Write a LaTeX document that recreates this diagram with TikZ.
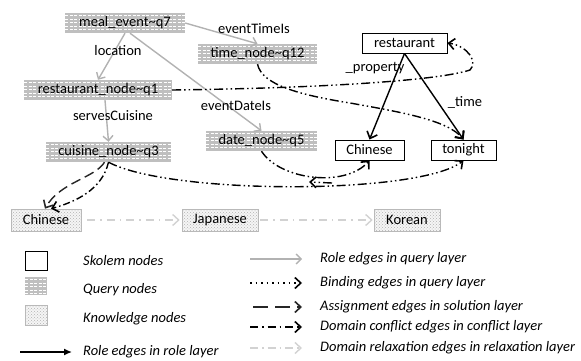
\documentclass[tikz,border=0pt]{standalone}
\usepackage{fontspec}
\setmainfont{Carlito}
\usetikzlibrary{arrows.meta,patterns}
\begin{document}
\begin{tikzpicture}[x=1pt,y=-1pt,
  font=\fontsize{14.5}{16}\selectfont,
  qnode/.style={fill=gray!50, inner sep=0pt, minimum height=20pt,
    path picture={\foreach \k in {2.5,6,...,20} {\draw[white, line width=0.7pt, dash pattern=on 3pt off 1.5pt]
      ([yshift=-\k pt]path picture bounding box.north west) -- ([yshift=-\k pt]path picture bounding box.north east);}}},
  know/.style={draw=gray!55, line width=0.6pt, preaction={fill=gray!8}, pattern=crosshatch dots, pattern color=gray!60, inner sep=0pt, minimum height=22pt},
  skolem/.style={draw=black, line width=0.9pt, inner sep=0pt, minimum height=20pt},
  lbl/.style={inner sep=0pt},
  legtext/.style={anchor=west, inner sep=0pt, font=\fontsize{14.5}{16}\selectfont\itshape},
  tip/.style={-{Straight Barb[length=6pt,width=11pt,line width=1.6pt]}},
  qrole/.style={draw=gray!60, line width=1.4pt, -{Straight Barb[length=5pt,width=10pt]}},
  role/.style={draw=black, line width=1.4pt, tip},
  mix/.style={draw=black, line width=1.4pt, dash pattern=on 9pt off 3pt on 1.5pt off 3pt on 1.5pt off 3pt, tip},
  bindl/.style={draw=black, line width=1.4pt, dash pattern=on 1.5pt off 4pt, tip},
  assign/.style={draw=black!85, line width=1.4pt, dash pattern=on 10pt off 5pt, tip},
  conf/.style={draw=black, line width=1.4pt, dash pattern=on 7pt off 3pt on 1.5pt off 3pt, tip},
  relax/.style={draw=gray!35, line width=1.4pt, dash pattern=on 8pt off 5pt on 1.5pt off 5pt, -{Straight Barb[length=6pt,width=11pt]}},
  rolelg/.style={draw=black, line width=1.4pt, -{Latex[length=8pt,width=7pt]}}
]
\useasboundingbox (0,0) rectangle (581,361);

% query layer
\node[qnode, minimum width=120pt] (meal) at (125,23) {meal\_event\textasciitilde q7};
\node[qnode, minimum width=119pt] (time) at (257.5,54) {time\_node\textasciitilde q12};
\node[qnode, minimum width=148pt] (q1) at (98,90) {restaurant\_node\textasciitilde q1};
\node[qnode, minimum width=125pt] (q3) at (108.5,152) {cuisine\_node\textasciitilde q3};
\node[qnode, minimum width=111pt] (q5) at (261.5,141) {date\_node\textasciitilde q5};

% role layer
\node[skolem, minimum width=85pt] (rest) at (404.5,43) {restaurant};
\node[skolem, minimum width=69pt] (chs) at (369.5,150) {Chinese};
\node[skolem, minimum width=65pt] (ton) at (463.5,150) {tonight};

% knowledge
\node[know, minimum width=70pt] (chk) at (46,220) {Chinese};
\node[know, minimum width=76pt] (jap) at (220,220) {Japanese};
\node[know, minimum width=66pt] (kor) at (407,220) {Korean};

% query role edges
\draw[qrole] (meal.south) -- (q1.north);
\draw[qrole] (meal.east) -- (time.north);
\draw[qrole] ([xshift=5pt]meal.south) -- (q5.north);
\draw[qrole] ([xshift=7pt]q1.south) -- (q3.north);
\node[lbl] (llocation) at (118,51) {location};
\node[lbl] (ltime) at (254,29) {eventTimeIs};
\node[lbl] (lserves) at (113,116) {servesCuisine};
\node[lbl] (ldate) at (236,106) {eventDateIs};

% role edges
\draw[role] (rest.south) -- (chs.north);
\draw[role] (rest.south) -- (ton.north);
\node[lbl] (lprop) at (375,68) {\_property};
\node[lbl] (ltimer) at (465,102) {\_time};

% binding / conflict curves
\coordinate (c1) at (470,70);
\coordinate (c2) at (350,103);
\draw[mix] (q1.east) .. controls (330,88) and (440,80) .. (c1) .. controls (478,62) and (468,46) .. (rest.east);
\draw[mix] (time.south) .. controls (262,85) and (300,95) .. (c2) .. controls (400,112) and (448,120) .. (ton.north);
\draw[mix] (q3.south) .. controls (170,195) and (420,195) .. (ton.south);
\draw[mix] (q5.south) .. controls (280,180) and (345,188) .. (chs.south);
\coordinate (s1) at (332,183);
\coordinate (s2) at (309,182);
\draw[mix] (s1) -- (s2);

% assignment and conflict to knowledge node
\draw[assign] ([xshift=-4pt]q3.south) .. controls (95,178) and (60,182) .. ([xshift=-1pt]chk.north);
\draw[conf] (q3.south) .. controls (102,190) and (75,202) .. ([xshift=5pt]chk.north);

% relaxation
\draw[relax, shorten <=6pt, shorten >=2pt] (chk.east) -- (jap.west);
\draw[relax, shorten <=2pt, shorten >=1pt] (jap.east) -- (kor.west);

% legend
\node[skolem, minimum width=22pt, minimum height=19pt] (lgS) at (36,260.5) {};
\node[qnode, minimum width=22pt, minimum height=18pt] (lgQ) at (36,286) {};
\node[know, minimum width=22pt, minimum height=20pt] (lgK) at (36,315) {};
\node[legtext] (tS) at (83,261) {Skolem nodes};
\node[legtext] (tQ) at (83,290) {Query nodes};
\node[legtext] (tK) at (83,319) {Knowledge nodes};
\coordinate (ra) at (20,352);
\coordinate (rb) at (72,352);
\draw[rolelg] (ra) -- (rb);
\node[legtext] (tR) at (83,352) {Role edges in role layer};

\coordinate (a1) at (250,259); \coordinate (b1) at (302,259);
\coordinate (a2) at (250,283); \coordinate (b2) at (302,283);
\coordinate (a3) at (253,307); \coordinate (b3) at (302,307);
\coordinate (a4) at (250,327); \coordinate (b4) at (302,327);
\coordinate (a5) at (250,348); \coordinate (b5) at (302,348);
\draw[qrole] (a1) -- (b1);
\draw[bindl] (a2) -- (b2);
\draw[assign, dash pattern=on 15pt off 7pt] (a3) -- (b3);
\draw[conf, dash pattern=on 8pt off 4pt on 1.5pt off 4pt] (a4) -- (b4);
\draw[relax, dash pattern=on 8pt off 4pt on 1.5pt off 4pt] (a5) -- (b5);
\node[legtext] (t1) at (320,259) {Role edges in query layer};
\node[legtext] (t2) at (320,283) {Binding edges in query layer};
\node[legtext] (t3) at (320,307) {Assignment edges in solution layer};
\node[legtext] (t4) at (320,327) {Domain conflict edges in conflict layer};
\node[legtext] (t5) at (320,348) {Domain relaxation edges in relaxation layer};
\end{tikzpicture}
\end{document}
